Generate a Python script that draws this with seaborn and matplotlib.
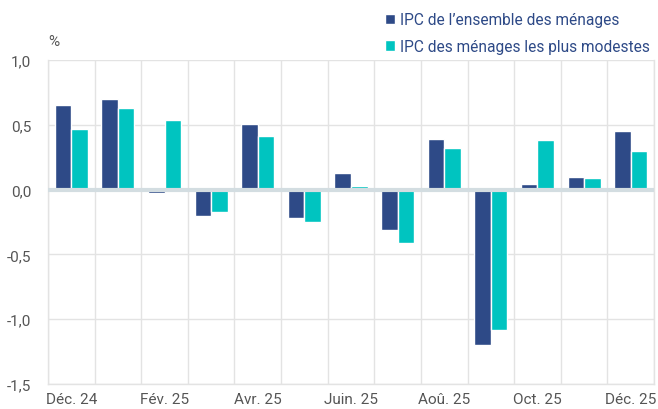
import matplotlib
matplotlib.use("Agg")
import matplotlib.pyplot as plt
import seaborn as sns
import pandas as pd
import numpy as np

months = ["Déc. 24", "Janv. 25", "Fév. 25", "Mars 25", "Avr. 25", "Mai 25", "Juin. 25",
          "Juil. 25", "Aoû. 25", "Sept. 25", "Oct. 25", "Nov. 25", "Déc. 25"]
ensemble = [0.65, 0.70, -0.03, -0.20, 0.51, -0.22, 0.13, -0.31, 0.39, -1.20, 0.04, 0.10, 0.45]
modestes = [0.47, 0.63, 0.54, -0.17, 0.41, -0.25, 0.03, -0.41, 0.32, -1.08, 0.38, 0.09, 0.30]
series = ["IPC de l\u2019ensemble des ménages", "IPC des ménages les plus modestes"]
colors = ["#2e4a87", "#00c4c0"]
yticks = [-1.5, -1.0, -0.5, 0.0, 0.5, 1.0]

df = pd.DataFrame({
    "mois": months * 2,
    "valeur": ensemble + modestes,
    "serie": [series[0]] * len(months) + [series[1]] * len(months),
})

sns.set_theme(style="white")
plt.rcParams["font.family"] = ["Roboto", "DejaVu Sans"]

fig = plt.figure(figsize=(6.58, 4.10), dpi=100)
ax = fig.add_axes([48 / 658, 1 - 385 / 410, (654 - 48) / 658, (385 - 61) / 410])

sns.barplot(data=df, x="mois", y="valeur", hue="serie", order=months, hue_order=series,
            palette=colors, width=0.71, saturation=1, ax=ax, zorder=2, legend=True)

ax.set_xlim(-0.5, len(months) - 0.5)
ax.set_ylim(-1.5, 1.0)
ax.set_yticks(yticks)
ax.set_yticklabels([f"{v:.1f}".replace(".", ",") for v in yticks])
ax.set_xticks(range(0, len(months), 2))
ax.set_xticklabels([months[i] for i in range(0, len(months), 2)])
ax.set_xticks(np.arange(-0.5, len(months), 1), minor=True)
ax.grid(True, axis="y", which="major", color="#e3e3e3", lw=1, zorder=0)
ax.grid(True, axis="x", which="minor", color="#e3e3e3", lw=1, zorder=0)
ax.tick_params(axis="both", which="both", length=0, labelsize=11, colors="#555555")
ax.tick_params(axis="x", pad=6)
ax.tick_params(axis="y", pad=12)
ax.spines["top"].set_visible(False)
for s in ["right", "left", "bottom"]:
    ax.spines[s].set_visible(True)
    ax.spines[s].set_color("#e3e3e3")
    ax.spines[s].set_linewidth(1)
    ax.spines[s].set_zorder(0)
ax.axhline(0, color="#d3dde1", lw=3, zorder=3)
ax.set_xlabel("")
ax.set_ylabel("")

fig.text(48 / 658, 1 - 42 / 410, "%", fontsize=11, color="#555555", ha="left", va="center")

leg = ax.legend(loc="upper left", bbox_to_anchor=(379 / 658, 1 - 7 / 410),
                bbox_transform=fig.transFigure, frameon=False, fontsize=11.2,
                handlelength=0.65, handleheight=0.65, handletextpad=0.3, labelspacing=0.75,
                borderaxespad=0)
for t in leg.get_texts():
    t.set_color("#2e4a87")

fig.savefig("out.png", dpi=100)
